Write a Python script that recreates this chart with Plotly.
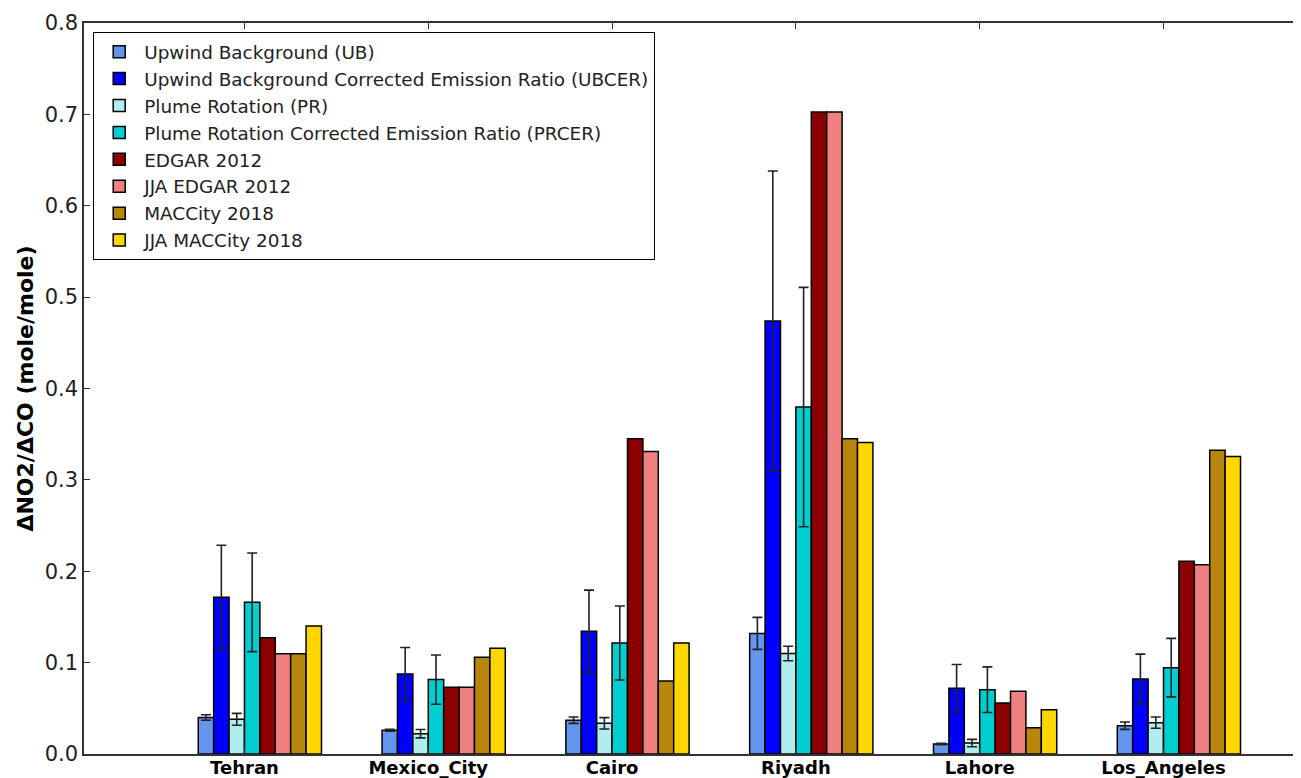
import plotly.graph_objects as go

cities = ["Tehran", "Mexico_City", "Cairo", "Riyadh", "Lahore", "Los_Angeles"]

series_names = [
    "Upwind Background (UB)",
    "Upwind Background Corrected Emission Ratio (UBCER)",
    "Plume Rotation (PR)",
    "Plume Rotation Corrected Emission Ratio (PRCER)",
    "EDGAR 2012",
    "JJA EDGAR 2012",
    "MACCity 2018",
    "JJA MACCity 2018",
]
colors = ["#6495ED", "#0000FF", "#AFEEEE", "#00CED1",
          "#8B0000", "#F08080", "#B8860B", "#FFD700"]

ub = [0.040, 0.026, 0.037, 0.132, 0.011, 0.031]
ub_err = [0.003, 0.001, 0.0035, 0.0175, 0.0007, 0.004]
ubcer = [0.1715, 0.0876, 0.1343, 0.474, 0.0719, 0.0821]
ubcer_err = [0.057, 0.029, 0.045, 0.164, 0.026, 0.0272]
pr = [0.038, 0.0222, 0.0336, 0.110, 0.012, 0.0343]
pr_err = [0.0065, 0.0046, 0.0062, 0.008, 0.004, 0.0062]
prcer = [0.166, 0.0814, 0.1215, 0.3797, 0.0704, 0.0945]
prcer_err = [0.054, 0.027, 0.0405, 0.131, 0.025, 0.032]
edgar = [0.1273, 0.073, 0.345, 0.7026, 0.0558, 0.2109]
jja_edgar = [0.1098, 0.073, 0.331, 0.7026, 0.0686, 0.2072]
maccity = [0.1098, 0.106, 0.0799, 0.345, 0.0288, 0.3323]
jja_maccity = [0.140, 0.1156, 0.1215, 0.341, 0.0485, 0.3257]

values = [ub, ubcer, pr, prcer, edgar, jja_edgar, maccity, jja_maccity]
errors = [ub_err, ubcer_err, pr_err, prcer_err, None, None, None, None]

bar_w = 0.0838
idx = list(range(len(cities)))

fig = go.Figure()
for i, (name, col, vals, err) in enumerate(zip(series_names, colors, values, errors)):
    xs = [k + (i - 2.5) * bar_w for k in idx]
    kw = {}
    if err is not None:
        kw["error_y"] = dict(type="data", array=err, visible=True,
                             color="#222222", thickness=1.6, width=5)
    fig.add_trace(go.Bar(
        x=xs, y=vals, width=bar_w, name=name,
        marker=dict(color=col, line=dict(color="#000000", width=1.5)),
        **kw,
    ))

# The page body adds an 8px offset; the figure size and margins compensate for it.
fig.update_layout(
    width=1293, height=770,
    margin=dict(l=76, r=0, t=15, b=24, autoexpand=False),
    plot_bgcolor="white", paper_bgcolor="white",
    barmode="overlay",
    showlegend=True,
    font=dict(family="DejaVu Sans", color="#222222"),
    legend=dict(
        x=0.0074, y=0.9877, xanchor="left", yanchor="top",
        bgcolor="white", bordercolor="#000000", borderwidth=1.2,
        font=dict(size=18.4, family="DejaVu Sans", color="#222222"),
        itemwidth=40,
    ),
    xaxis=dict(
        range=[-0.873, 5.748], automargin=False,
        tickmode="array", tickvals=idx, ticktext=cities,
        tickfont=dict(size=18, family="DejaVu Sans", color="#000000", weight="bold"),
        ticklabelstandoff=-3,
        ticks="inside", ticklen=6, tickcolor="#333333",
        showline=True, linecolor="#333333", linewidth=1.5, mirror="ticks",
        showgrid=False, zeroline=False,
    ),
    yaxis=dict(
        range=[0, 0.8], automargin=False,
        tickmode="array", tickvals=[0, 0.1, 0.2, 0.3, 0.4, 0.5, 0.6, 0.7, 0.8],
        tickformat=".1f",
        tickfont=dict(size=21, family="DejaVu Sans", color="#222222"),
        ticks="inside", ticklen=6, tickcolor="#333333",
        showline=True, linecolor="#333333", linewidth=1.5, mirror=False,
        showgrid=False, zeroline=False,
        title=dict(text="ΔNO2/ΔCO (mole/mole)",
                   font=dict(size=22, family="DejaVu Sans", color="#000000", weight="bold"),
                   standoff=5),
    ),
)

fig.write_html("out.html")
